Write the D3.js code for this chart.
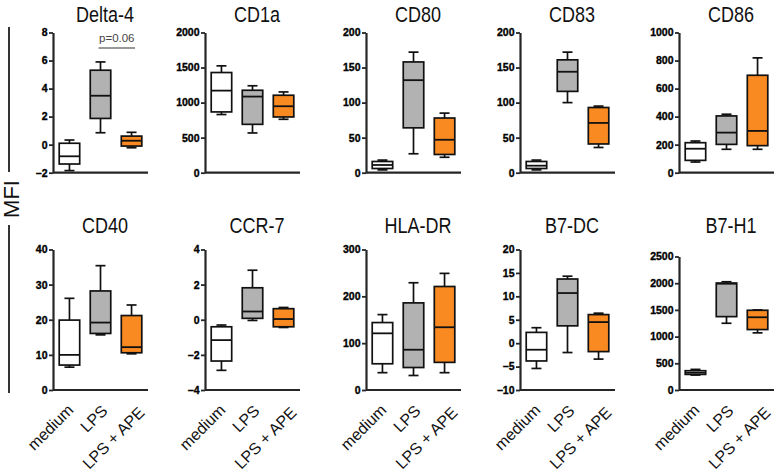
<!DOCTYPE html>
<html><head><meta charset="utf-8">
<script src="https://cdn.jsdelivr.net/npm/d3@7"></script>
<style>body{margin:0;background:#fff} svg{display:block}</style>
</head><body><svg id="c" width="778" height="476"></svg>
<script>
// ---------- data ----------
const markers = ["Delta-4","CD1a","CD80","CD83","CD86","CD40","CCR-7","HLA-DR","B7-DC","B7-H1"];
const groups = ["medium","LPS","LPS + APE"];
const yDomainMin = [-2, 0, 0, 0, 0, 0, -4, 0, -10, 0];
const yDomainMax = [8, 2000, 200, 200, 1000, 40, 4, 300, 20, 2500];
const yTickStep  = [2, 500, 50, 50, 200, 10, 2, 100, 5, 500];
// five-number summaries: [min, q1, median, q3, max]
const mediumStats = [
  [-1.85,-1.38,-0.83,0.1,0.33],
  [830,867,1171,1429,1524],
  [4,6,11,16,18],
  [4,6,10,16,18],
  [76,88,171,214,226],
  [6.5,7.1,10.0,19.9,26.1],
  [-2.88,-2.35,-1.16,-0.40,-0.30],
  [37,56,121,144,161],
  [-5.4,-3.8,-1.4,2.3,3.3],
  [280,292,323,361,386]
];
const lpsStats = [
  [0.85,1.87,3.49,5.31,5.9],
  [567,690,1086,1176,1240],
  [27,64,132,158,172],
  [100,116,144,161,172],
  [167,202,286,405,417],
  [15.7,16.1,19.2,28.2,35.4],
  [-0.04,0.08,0.47,1.82,2.82],
  [31,48,86,186,229],
  [-2.0,3.7,10.7,13.7,14.3],
  [1250,1374,1990,2003,2027]
];
const apeStats = [
  [-0.22,-0.1,0.28,0.61,0.88],
  [762,795,948,1105,1152],
  [22,26,47,78,85],
  [36,41,71,93,95],
  [167,193,298,695,819],
  [10.3,10.6,12.2,21.2,24.2],
  [-0.44,-0.40,0.04,0.63,0.70],
  [37,59,134,221,249],
  [-3.4,-1.8,4.5,6.1,6.4],
  [1070,1132,1362,1493,1499]
];
const pValueLabel = "p=0.06";
const pValueLevel = 6.9;   // data value (Delta-4 panel) of the bracket
const yAxisTitle = "MFI";

// ---------- layout ----------
const W = 778, H = 476;
const colAxisX = [53, 205, 366, 520, 679];
const rowTopY = [32.5, 249.5];
const rowBottomY = [172.7, 390];
const axisTopInset = [0,0,0,0,0,0,0,0,0,7];
const labelShift = [0, 3, 9];
const plotWidth = 95;
const fills = ["#ffffff", "#b2b2b2", "#f98a22"];
const ink = "#111";
const axisInk = "#262626";
const sans = "Arial,'Liberation Sans',Helvetica,sans-serif";

const svg = d3.select("#c");
svg.append("rect").attr("width", W).attr("height", H).attr("fill", "#fff");

const statsByGroup = [mediumStats, lpsStats, apeStats];

markers.forEach((name, i) => {
  const col = i % 5, row = Math.floor(i / 5);
  const ax = colAxisX[col];
  const y = d3.scaleLinear()
    .domain([yDomainMin[i], yDomainMax[i]])
    .range([rowBottomY[row], rowTopY[row] + axisTopInset[i]]);
  const x = d3.scaleBand().domain(groups)
    .range([ax, ax + plotWidth]).paddingInner(0.34).paddingOuter(0.2);
  const g = svg.append("g");

  // title (condensed sans)
  g.append("text")
    .attr("transform", `translate(${ax + 52},${row === 0 ? 22 : 232.5}) scale(0.8,1)`)
    .attr("text-anchor", "middle")
    .style("font-family", sans)
    .style("font-size", "22.5px").attr("fill", ink).text(name);

  // boxes
  groups.forEach((gr, j) => {
    const s = statsByGroup[j][i];
    const cx = x(gr) + x.bandwidth() / 2;
    const bw = x.bandwidth();
    const cap = 10;
    const bg = g.append("g");
    bg.append("line").attr("x1", cx).attr("x2", cx).attr("y1", y(s[0])).attr("y2", y(s[4]))
      .attr("stroke", ink).attr("stroke-width", 1.7);
    [s[0], s[4]].forEach(v => bg.append("line")
      .attr("x1", cx - cap / 2).attr("x2", cx + cap / 2).attr("y1", y(v)).attr("y2", y(v))
      .attr("stroke", ink).attr("stroke-width", 1.7));
    bg.append("rect").attr("x", x(gr)).attr("width", bw)
      .attr("y", y(s[3])).attr("height", Math.max(0.5, y(s[1]) - y(s[3])))
      .attr("fill", fills[j]).attr("stroke", ink).attr("stroke-width", 1.7);
    bg.append("line").attr("x1", x(gr)).attr("x2", x(gr) + bw).attr("y1", y(s[2])).attr("y2", y(s[2]))
      .attr("stroke", ink).attr("stroke-width", 1.8);
  });

  // y axis
  const ticks = d3.range(yDomainMin[i], yDomainMax[i] + yTickStep[i] / 2, yTickStep[i]);
  const ya = g.append("g").attr("transform", `translate(${ax},0)`)
    .call(d3.axisLeft(y).tickValues(ticks).tickSize(4).tickPadding(1.5).tickSizeOuter(0).tickFormat(d3.format("d")));
  ya.attr("font-family", null).attr("font-size", null);
  ya.select(".domain").attr("stroke", axisInk).attr("stroke-width", 2.2);
  ya.selectAll(".tick line").attr("stroke", axisInk).attr("stroke-width", 1.8);
  ya.selectAll(".tick text").attr("fill", "#000")
    .attr("font-family", sans).attr("font-size", 10.5).attr("font-weight", "bold")
    .attr("stroke", "#000").attr("stroke-width", 0.35);

  // x axis
  const xa = g.append("g").attr("transform", `translate(0,${rowBottomY[row]})`)
    .call(d3.axisBottom(x).tickSize(0).tickSizeOuter(0).tickFormat(row === 1 ? (d => d) : (() => "")));
  xa.attr("font-family", null).attr("font-size", null);
  xa.select(".domain").attr("stroke", axisInk).attr("stroke-width", 2.2)
    .attr("d", `M${ax},0H${ax + plotWidth}`);
  xa.selectAll(".tick text")
    .attr("y", 0).attr("dy", 0)
    .attr("transform", (d, k) => `translate(${5 + labelShift[k]},${21 + labelShift[k] * 0.3}) rotate(-45)`)
    .style("text-anchor", "end").attr("fill", ink)
    .attr("font-family", sans).attr("font-size", 16);

  // p-value bracket for Delta-4
  if (i === 0) {
    const x1 = x("LPS") + x.bandwidth() / 2 - 2;
    const x2 = x("LPS + APE") + x.bandwidth() / 2 + 3.5;
    g.append("line").attr("x1", x1).attr("x2", x2).attr("y1", y(pValueLevel)).attr("y2", y(pValueLevel))
      .attr("stroke", "#777").attr("stroke-width", 1.5);
    g.append("text").attr("x", (x1 + x2) / 2).attr("y", y(pValueLevel) - 6)
      .attr("text-anchor", "middle").attr("fill", "#444")
      .style("font-family", sans).style("font-size", "11.5px")
      .text(pValueLabel);
  }
});

// MFI label with vertical rules
svg.append("line").attr("x1", 9).attr("x2", 9).attr("y1", 27).attr("y2", 172).attr("stroke", ink).attr("stroke-width", 1.7);
svg.append("line").attr("x1", 9).attr("x2", 9).attr("y1", 225).attr("y2", 393).attr("stroke", ink).attr("stroke-width", 1.7);
svg.append("text").attr("transform", "translate(19,199) rotate(-90)")
  .attr("text-anchor", "middle").attr("fill", ink)
  .style("font-family", sans).style("font-size", "22px")
  .text(yAxisTitle);
</script></body></html>
